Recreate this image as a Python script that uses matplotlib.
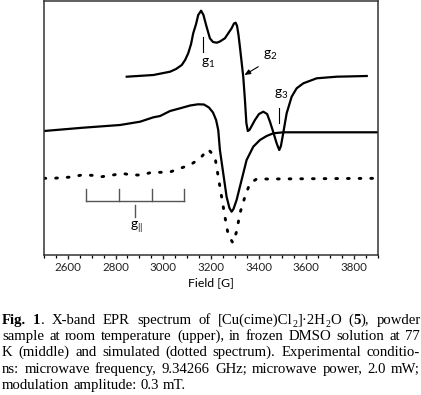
import re
import matplotlib
matplotlib.use("Agg")
import matplotlib.pyplot as plt
from matplotlib.ticker import MultipleLocator

# upper trace: powder, room temperature
upper_field = [2847, 2959, 3029, 3054, 3078, 3092, 3105, 3117, 3126, 3138, 3147, 3159, 3169, 3180,
               3196, 3209, 3225, 3238, 3259, 3287, 3297, 3304, 3310, 3316, 3322, 3329, 3336, 3343,
               3349, 3355, 3362, 3385, 3402, 3420, 3436, 3448, 3463, 3476, 3482, 3487, 3494, 3501,
               3518, 3539, 3560, 3588, 3644, 3728, 3854]
upper_int = [178.3, 180, 183.3, 186, 190, 195, 201.7, 211, 221.7, 231, 240, 244.3, 240, 230,
             216.7, 213, 212.3, 213.5, 216.7, 226.7, 231.5, 232.3, 229, 220, 208, 193, 178, 155,
             132, 124, 125, 135, 141, 143.3, 141, 133.3, 122, 111.7, 108, 105, 109, 118.3,
             141.7, 158.3, 166.7, 171.7, 176.7, 178.3, 179]

# middle trace: frozen DMSO solution, 77 K
mid_field = [2500, 2664, 2819, 2903, 2959, 2987, 3029, 3071, 3113, 3146, 3171, 3192, 3209, 3222,
             3231, 3238, 3252, 3266, 3278, 3287, 3295, 3308, 3329, 3350, 3378, 3406, 3434, 3462,
             3504, 3900]
mid_int = [124, 127.3, 130, 133.3, 137.7, 139, 144, 146.7, 149.5, 150.7, 150.5, 147.5, 142.5, 135,
           125, 105, 81.7, 58.3, 47, 43.3, 46, 55, 75, 95, 108.3, 115, 119, 121.7,
           122.7, 122.7]

# dotted trace: simulation
sim_field = [2500, 2539, 2616, 2658, 2700, 2742, 2784, 2826, 2868, 2910, 2952, 2994, 3032, 3071, 3113,
             3155, 3189, 3217, 3231, 3245, 3259, 3273, 3292, 3308, 3322, 3343, 3364, 3392, 3434, 3900]
sim_int = [76.7, 76.7, 78, 80, 79.7, 78.3, 79.7, 81.7, 80, 80, 82.7, 82.7, 83.3, 86.7, 90,
           96.7, 105.7, 98.3, 78.3, 58.3, 38.3, 20, 12.3, 23.3, 41.7, 58.3, 71.7, 76, 76, 76.7]

# g-parallel hyperfine ruler
ruler_ticks = [2677, 2816, 2954, 3089]
ruler_center = 2880

caption = [
    "**Fig.** **1**. X-band EPR spectrum of [Cu(cime)Cl_2]·2H_2O (**5**), powder",
    "sample at room temperature (upper), in frozen DMSO solution at 77",
    "K (middle) and simulated (dotted spectrum). Experimental conditio-",
    "ns: microwave frequency, 9.34266 GHz; microwave power, 2.0 mW;",
    "modulation amplitude: 0.3 mT.",
]

plt.rcParams["mathtext.fontset"] = "custom"
plt.rcParams["mathtext.rm"] = "Lato"
plt.rcParams["mathtext.it"] = "Lato"

W, H = 421, 395


def segs(word):
    for p in re.split(r"(\*\*.+?\*\*|_\d)", word):
        if not p:
            continue
        if p.startswith("**"):
            yield p[2:-2], "b"
        elif p.startswith("_"):
            yield p[1:], "s"
        else:
            yield p, "n"


def draw_caption(fig, lines, left=2, right=420, base0=323.7, step=16.3, fs=10.6):
    r = fig.canvas.get_renderer()
    space = 0.25 * fs * 100 / 72
    for i, line in enumerate(lines):
        py = base0 + i * step
        words = []
        for w in line.split(" "):
            items = []
            for s, kind in segs(w):
                t = fig.text(0, 0, s, family="Liberation Serif", va="baseline", ha="left",
                             fontsize=fs * 0.68 if kind == "s" else fs,
                             fontweight="bold" if kind == "b" else "normal")
                wd = t.get_window_extent(r).width
                items.append((t, kind, wd))
            words.append(items)
        total = sum(wd for it in words for _, _, wd in it)
        last = i == len(lines) - 1
        gap = space if last else (right - left - total) / (len(words) - 1)
        x = left
        for it in words:
            for t, kind, wd in it:
                dy = 3 if kind == "s" else 0
                t.set_position((x / W, 1 - (py + dy) / H))
                x += wd + (0.3 if kind == "s" else 0)
            x += gap


def main():
    fig = plt.figure(figsize=(4.21, 3.95), dpi=100)
    ax = fig.add_axes([44 / W, 1 - 255 / H, 333.7 / W, 254.2 / H])

    ax.plot(upper_field, upper_int, color="black", lw=1.6, solid_joinstyle="round")
    ax.plot(mid_field, mid_int, color="black", lw=1.6, solid_joinstyle="round")
    ax.plot(sim_field, sim_int, color="black", lw=2.1, linestyle=(0, (0.6, 3.4)),
            dash_capstyle="round")

    # g markers
    gfs = 10
    ax.plot([3168, 3168], [203.3, 218.3], color="black", lw=0.8)
    ax.text(3188, 191.7, r"$\mathrm{g_1}$", fontsize=gfs, ha="center", va="center")
    ax.annotate("", xy=(3341, 180), xytext=(3399, 188.3),
                arrowprops=dict(arrowstyle="-|>,head_length=0.35,head_width=0.15",
                                color="black", lw=0.8, shrinkA=0, shrinkB=0))
    ax.text(3448, 200, r"$\mathrm{g_2}$", fontsize=gfs, ha="center", va="center")
    ax.text(3497, 161, r"$\mathrm{g_3}$", fontsize=gfs, ha="center", va="center")
    ax.plot([3487, 3487], [131.7, 146.7], color="black", lw=0.8)

    # g|| ruler
    rc = "#555555"
    ax.plot([ruler_ticks[0], ruler_ticks[-1]], [54, 54], color=rc, lw=1.0)
    for f in ruler_ticks:
        ax.plot([f, f], [54, 65.7], color=rc, lw=1.0)
    ax.plot([ruler_center, ruler_center], [38.3, 50], color=rc, lw=1.0)
    ax.text(ruler_center + 9, 28.3, r"$\mathrm{g_{||}}$", fontsize=gfs, ha="center", va="center")

    ax.set_xlim(2500, 3900)
    ax.set_ylim(0, 254.2)
    ax.xaxis.set_major_locator(MultipleLocator(200))
    ax.xaxis.set_minor_locator(MultipleLocator(50))
    ax.tick_params(axis="x", which="major", direction="out", length=3.2, width=1.0,
                   labelsize=8.3, pad=2.0, colors="#222222")
    ax.tick_params(axis="x", which="minor", direction="out", length=2.0, width=0.9)
    ax.tick_params(axis="y", left=False, labelleft=False)
    for lab in ax.get_xticklabels():
        lab.set_family("Lato")
    for sp in ax.spines.values():
        sp.set_linewidth(1.1)
        sp.set_color("#333333")
    ax.set_xlabel("Field [G]", family="Lato", fontsize=8.9, labelpad=2.5)

    draw_caption(fig, caption)
    fig.savefig("out.png", dpi=100)


if __name__ == "__main__":
    main()
